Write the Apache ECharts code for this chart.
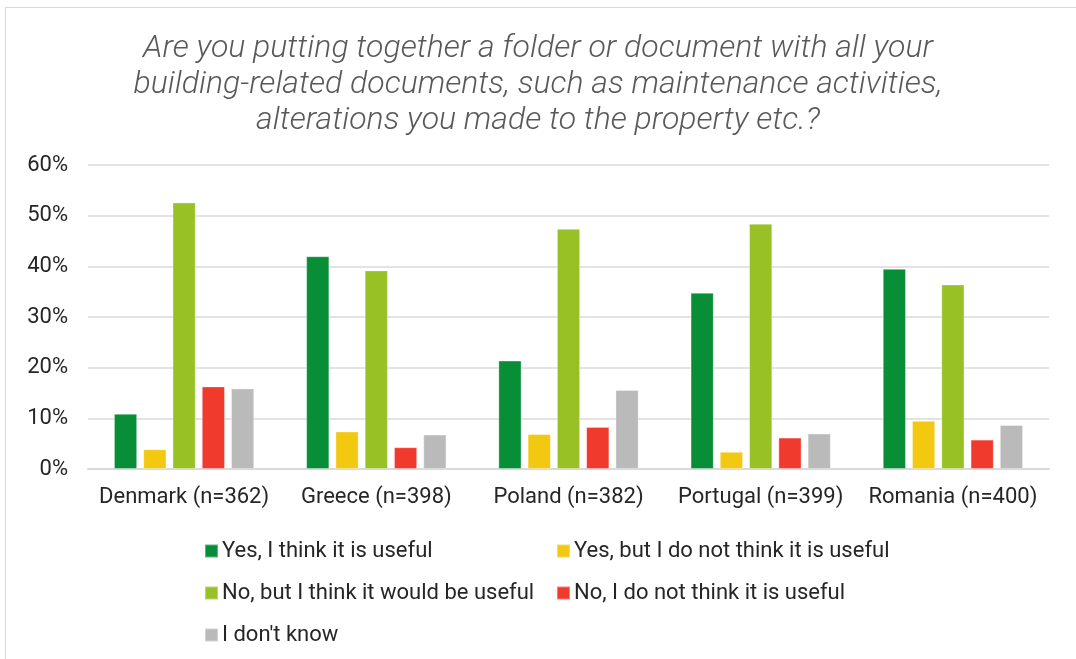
<!DOCTYPE html>
<html>
<head>
<meta charset="utf-8">
<script src="https://cdn.jsdelivr.net/npm/echarts@6/dist/echarts.min.js"></script>
<style>
html,body{margin:0;padding:0;background:#fff;}
#frame{position:absolute;left:5px;top:7px;width:1080px;height:660px;border:1px solid #d9d9d9;box-sizing:border-box;}
#chart{position:absolute;left:0;top:0;width:1076px;height:659px;}
</style>
</head>
<body>
<div id="frame"></div>
<div id="chart"></div>
<script>
const titleText = "Are you putting together a folder or document with all your\nbuilding-related documents, such as maintenance activities,\nalterations you made to the property etc.?";
const categories = ["Denmark (n=362)", "Greece (n=398)", "Poland (n=382)", "Portugal (n=399)", "Romania (n=400)"];
const seriesNames = ["Yes, I think it is useful", "Yes, but I do not think it is useful", "No, but I think it would be useful", "No, I do not think it is useful", "I don't know"];
const yesUseful = [10.9, 42.0, 21.4, 34.8, 39.5];
const yesNotUseful = [3.9, 7.4, 6.9, 3.4, 9.5];
const noWouldBeUseful = [52.6, 39.2, 47.4, 48.4, 36.4];
const noNotUseful = [16.3, 4.3, 8.3, 6.2, 5.8];
const dontKnow = [15.9, 6.8, 15.6, 7.0, 8.7];
const colors = ["#098E38", "#F2C811", "#97C124", "#F03A2E", "#BABABA"];
const allValues = [yesUseful, yesNotUseful, noWouldBeUseful, noNotUseful, dontKnow];

const FONT = "Roboto";
const legendPos = [[199, 535], [551, 535], [199, 577], [551, 577], [199, 619]];

const chart = echarts.init(document.getElementById('chart'));
chart.setOption({
  animation: false,
  backgroundColor: 'transparent',
  color: colors,
  title: {
    text: titleText,
    left: 'center',
    top: 26,
    textStyle: {
      fontFamily: FONT, fontStyle: 'italic', fontWeight: 300,
      fontSize: 32, lineHeight: 36, color: '#595959'
    }
  },
  legend: seriesNames.map((n, i) => ({
    data: [n],
    left: legendPos[i][0],
    top: legendPos[i][1],
    itemWidth: 13, itemHeight: 13, itemGap: 4,
    icon: 'rect',
    textStyle: { fontFamily: FONT, fontSize: 22, color: '#262626', padding: [0, 0, 0, -1] }
  })),
  grid: { left: 88, right: 27, top: 165, bottom: 190 },
  xAxis: {
    type: 'category',
    data: categories,
    axisLine: { show: true, lineStyle: { color: '#d9d9d9', width: 2 } },
    axisTick: { show: false },
    axisLabel: { interval: 0, fontFamily: FONT, fontSize: 22, color: '#262626', margin: 17 }
  },
  yAxis: {
    type: 'value',
    min: 0, max: 60, interval: 10,
    axisLine: { show: false },
    axisTick: { show: false },
    splitLine: { lineStyle: { color: '#e3e3e3', width: 2 } },
    axisLabel: { fontFamily: FONT, fontSize: 22, color: '#262626', margin: 20, formatter: '{value}%' }
  },
  series: seriesNames.map((n, i) => ({
    name: n,
    type: 'bar',
    data: allValues[i],
    barGap: '26%',
    barCategoryGap: '27%',
    itemStyle: { color: colors[i], borderColor: 'rgba(255,255,255,0.35)', borderWidth: 1 }
  }))
});
</script>
</body>
</html>
